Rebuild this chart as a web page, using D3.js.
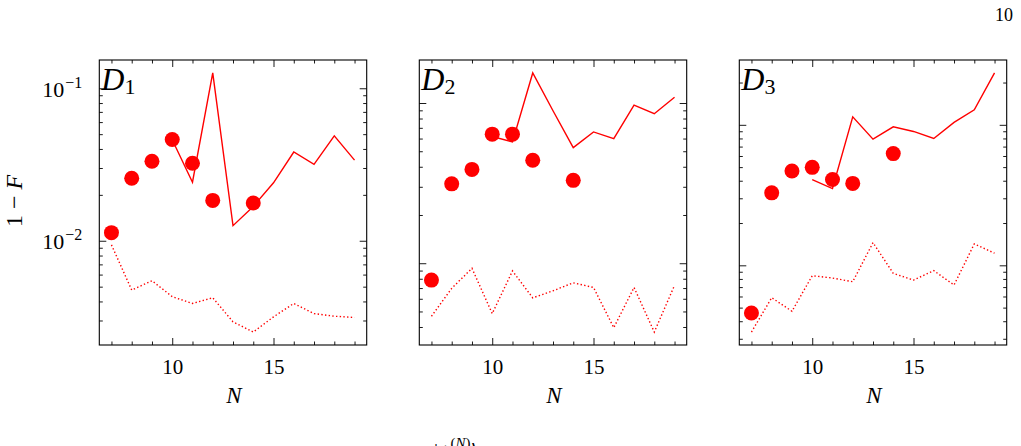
<!DOCTYPE html>
<html>
<head>
<meta charset="utf-8">
<script src="https://cdn.jsdelivr.net/npm/d3@7"></script>
<style>
  html, body { margin: 0; padding: 0; background: #fff; }
  svg { display: block; }
  text { font-family: "Liberation Serif", "DejaVu Serif", serif; fill: #000; }
</style>
</head>
<body>
<div id="chart"></div>
<script>
// ---- data ----
const panelNames = ["1", "2", "3"];
const allN = [7, 8, 9, 10, 11, 12, 13, 14, 15, 16, 17, 18, 19];
const dotN = [7, 8, 9, 10, 11, 12, 14];
const solidN = [10, 11, 12, 13, 14, 15, 16, 17, 18, 19];

const d1Dots = [0.0113, 0.0257, 0.0332, 0.0461, 0.0322, 0.0184, 0.0177];
const d1Solid = [0.046, 0.0242, 0.126, 0.01256, 0.0168, 0.024, 0.0382, 0.0317, 0.0487, 0.0338];
const d1Dotted = [0.0094, 0.00475, 0.00547, 0.0043, 0.00388, 0.00423, 0.00294, 0.00252, 0.00317, 0.00388, 0.00333, 0.0032, 0.00314];

const d2Dots = [0.00785, 0.0313, 0.0385, 0.0639, 0.0639, 0.0439, 0.0329];
const d2Solid = [0.0618, 0.0571, 0.154, 0.0895, 0.0527, 0.066, 0.06, 0.0971, 0.0857, 0.1086];
const d2Dotted = [0.00467, 0.00697, 0.0093, 0.00485, 0.00895, 0.00608, 0.00673, 0.00755, 0.00706, 0.00396, 0.00706, 0.00372, 0.00728];

const d3Dots = [0.00458, 0.0328, 0.0469, 0.0498, 0.0408, 0.0383, 0.0624];
const d3Solid = [0.0408, 0.0352, 0.114, 0.079, 0.0968, 0.0897, 0.080, 0.104, 0.128, 0.234];
const d3Dotted = [0.00335, 0.00588, 0.00471, 0.00843, 0.00812, 0.00764, 0.0145, 0.00877, 0.00785, 0.00917, 0.00724, 0.0142, 0.0122];

const xMajorTicks = [10, 15];
const xTickLabels = ["10", "15"];
const yMajorExps = [-1, -2];
const xLabel = "N";
const pageNumber = "10";

// ---- layout ----
const W = 1021, H = 446;
const panelLeft = [99.3, 419.3, 739.3];
const panelW = 267.4;
const yTop = 60, yBot = 345;
const red = "#ff0000";

const svg = d3.select("#chart").append("svg").attr("width", W).attr("height", H);

const panels = [
  { dots: d1Dots, solid: d1Solid, dotted: d1Dotted },
  { dots: d2Dots, solid: d2Solid, dotted: d2Dotted },
  { dots: d3Dots, solid: d3Solid, dotted: d3Dotted }
];

panels.forEach((p, i) => {
  const g = svg.append("g").attr("transform", `translate(${panelLeft[i]},0)`);
  const x = d3.scaleLinear().domain([6.4, 19.6]).range([0, panelW]);
  const allVals = p.dots.concat(p.solid, p.dotted);
  const lmin = Math.log10(d3.min(allVals)), lmax = Math.log10(d3.max(allVals));
  const m = 0.05 * (lmax - lmin);
  const y = d3.scaleLog().domain([Math.pow(10, lmin - m), Math.pow(10, lmax + m)]).range([yBot, yTop]);

  // ticks
  const [d0, d1] = y.domain();
  const majors = [], minors = [];
  for (let k = Math.floor(Math.log10(d0)); k <= Math.ceil(Math.log10(d1)); k++) {
    for (let mm = 1; mm <= 9; mm++) {
      const v = mm * Math.pow(10, k);
      if (v >= d0 && v <= d1) (mm === 1 ? majors : minors).push(v);
    }
  }
  const xMinor = allN.filter(n => xMajorTicks.indexOf(n) < 0);

  const axes = g.append("g").attr("class", "ticks");
  const addAxis = (axis, tr) => {
    const a = axes.append("g").attr("transform", tr).call(axis);
    a.select(".domain").remove();
    a.selectAll("line").attr("stroke", "#000").attr("stroke-width", 0.9);
    return a;
  };
  addAxis(d3.axisLeft(y).tickValues(majors).tickSize(-7).tickFormat(""), "translate(0,0)");
  addAxis(d3.axisLeft(y).tickValues(minors).tickSize(-3.5).tickFormat(""), "translate(0,0)");
  addAxis(d3.axisRight(y).tickValues(majors).tickSize(-7).tickFormat(""), `translate(${panelW},0)`);
  addAxis(d3.axisRight(y).tickValues(minors).tickSize(-3.5).tickFormat(""), `translate(${panelW},0)`);
  const xb = addAxis(d3.axisBottom(x).tickValues(xMajorTicks).tickSize(-7).tickPadding(14.5)
      .tickFormat((d, j) => xTickLabels[j]), `translate(0,${yBot})`);
  xb.selectAll("text").attr("font-size", 21).attr("font-family", "Liberation Serif").attr("fill", "#000");
  addAxis(d3.axisBottom(x).tickValues(xMinor).tickSize(-3.5).tickFormat(""), `translate(0,${yBot})`);
  addAxis(d3.axisTop(x).tickValues(xMajorTicks).tickSize(-7).tickFormat(""), `translate(0,${yTop})`);
  addAxis(d3.axisTop(x).tickValues(xMinor).tickSize(-3.5).tickFormat(""), `translate(0,${yTop})`);

  // y tick labels only on first panel
  if (i === 0) {
    yMajorExps.forEach(e => {
      const v = Math.pow(10, e);
      const t = g.append("text").attr("x", -17).attr("y", y(v) + 8.7)
        .attr("text-anchor", "end").attr("font-size", 22);
      t.append("tspan").text("10");
      t.append("tspan").attr("dx", 1).attr("dy", -9).attr("font-size", 16).text("−" + Math.abs(e));
    });
  }

  // lines
  const line = d3.line().x(d => x(d[0])).y(d => y(d[1]));
  g.append("path").datum(solidN.map((n, j) => [n, p.solid[j]]))
    .attr("d", line).attr("fill", "none").attr("stroke", red).attr("stroke-width", 1.4);
  g.append("path").datum(allN.map((n, j) => [n, p.dotted[j]]))
    .attr("d", line).attr("fill", "none").attr("stroke", red).attr("stroke-width", 1.4)
    .attr("stroke-dasharray", "1.4,2.3");
  g.selectAll("circle.pt").data(dotN.map((n, j) => [n, p.dots[j]])).enter()
    .append("circle").attr("class", "pt")
    .attr("cx", d => x(d[0])).attr("cy", d => y(d[1])).attr("r", 7.5).attr("fill", red);

  // frame
  g.append("rect").attr("x", 0).attr("y", yTop).attr("width", panelW).attr("height", yBot - yTop)
    .attr("fill", "none").attr("stroke", "#000").attr("stroke-width", 1.1);

  // panel label
  const lab = g.append("text").attr("x", 2).attr("y", 90).attr("font-size", 32);
  lab.append("tspan").attr("font-style", "italic").text("D");
  lab.append("tspan").attr("dy", 4).attr("font-size", 22).text(panelNames[i]);

  // x label
  g.append("text").attr("x", panelW / 2 + 1).attr("y", 403).attr("text-anchor", "middle")
    .attr("font-size", 23).attr("font-style", "italic").text(xLabel);
});

// y label
svg.append("text").attr("transform", "translate(22,201) rotate(-90)")
  .attr("text-anchor", "middle").attr("font-size", 24)
  .html('1 − <tspan font-style="italic">F</tspan>');

// page number
svg.append("text").attr("x", 1013).attr("y", 21).attr("text-anchor", "end")
  .attr("font-size", 18).text(pageNumber);

// caption cut off by the bottom edge, as in the source image
const cap = svg.append("text").attr("x", 434).attr("y", 458).attr("font-size", 20);
cap.append("tspan").text("|");
cap.append("tspan").attr("font-style", "italic").text("ψ");
cap.append("tspan").attr("dy", -10).attr("font-size", 15).text("(");
cap.append("tspan").attr("font-size", 15).attr("font-style", "italic").text("N");
cap.append("tspan").attr("font-size", 15).text(")");
cap.append("tspan").attr("dy", 10).text("⟩");
</script>
</body>
</html>
